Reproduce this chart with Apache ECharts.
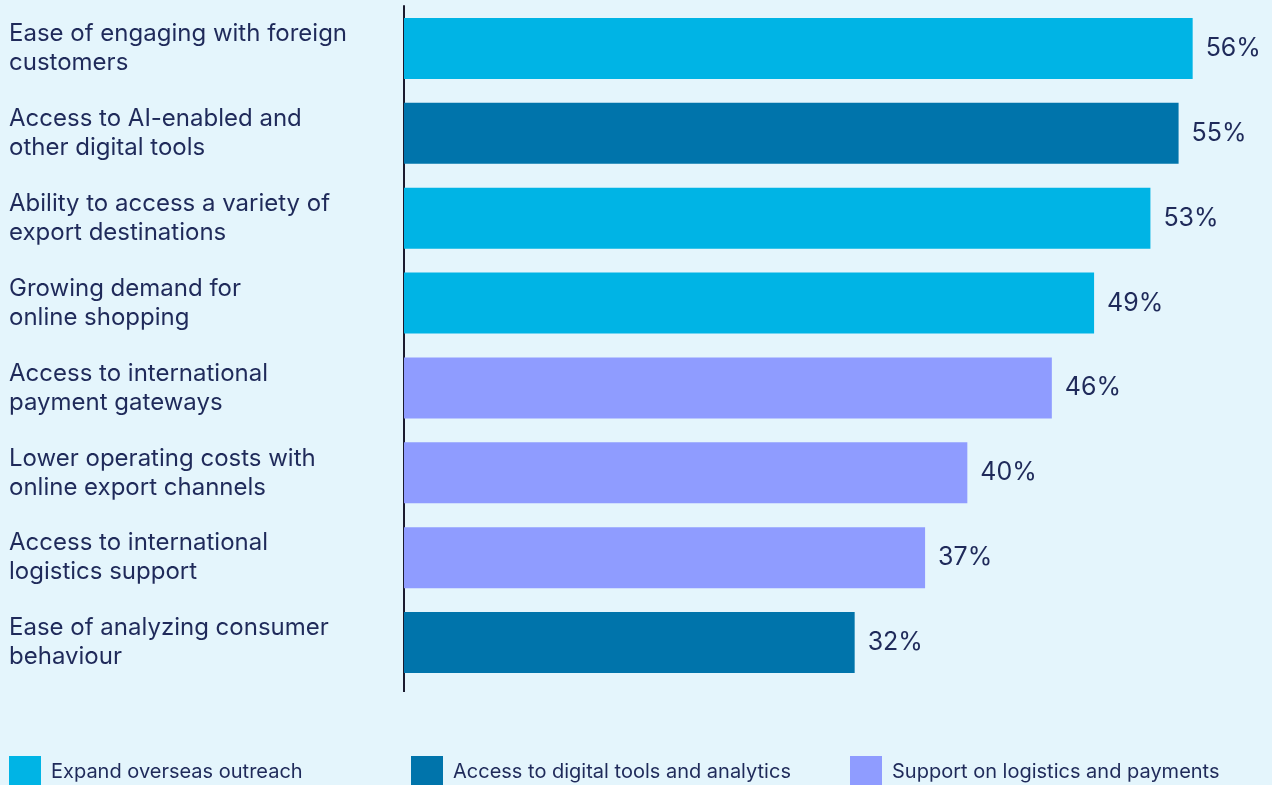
<!DOCTYPE html>
<html><head><meta charset="utf-8">
<script src="https://cdn.jsdelivr.net/npm/echarts@6/dist/echarts.min.js"></script>
<style>html,body{margin:0;padding:0;background:#e4f5fc;}#c{width:1272px;height:785px;}</style>
</head><body><div id="c"></div>
<script>
const categories = [
  "Ease of engaging with foreign\ncustomers",
  "Access to AI-enabled and\nother digital tools",
  "Ability to access a variety of\nexport destinations",
  "Growing demand for\nonline shopping",
  "Access to international\npayment gateways",
  "Lower operating costs with\nonline export channels",
  "Access to international\nlogistics support",
  "Ease of analyzing consumer\nbehaviour"
];
const values = [56, 55, 53, 49, 46, 40, 37, 32];
const groups = ["outreach", "digital", "outreach", "outreach", "logistics", "logistics", "logistics", "digital"];
const groupNames = {
  outreach: "Expand overseas outreach",
  digital: "Access to digital tools and analytics",
  logistics: "Support on logistics and payments"
};
const groupColors = { outreach: "#00b4e5", digital: "#0074ab", logistics: "#8f9cff" };
const groupOrder = ["outreach", "digital", "logistics"];

const navy = "#1f2a5a";
const font = "Inter";

const chart = echarts.init(document.getElementById('c'), null, { renderer: 'canvas' });
const series = groupOrder.map(g => ({
  name: groupNames[g],
  type: 'bar',
  stack: 'all',
  barWidth: 61,
  itemStyle: { color: groupColors[g] },
  label: {
    show: true, position: 'right', distance: 13,
    formatter: p => p.value + '%',
    color: navy, fontFamily: font, fontSize: 25
  },
  data: values.map((v, i) => groups[i] === g ? v : null)
}));
const legendLefts = [9, 411, 850];
const legends = groupOrder.map((g, i) => ({
  data: [groupNames[g]],
  left: legendLefts[i], top: 756,
  padding: 0,
  itemWidth: 32, itemHeight: 32, icon: 'rect',
  textStyle: { color: navy, fontFamily: font, fontSize: 20, padding: [0, 0, 0, 5] }
}));
chart.setOption({
  backgroundColor: '#e4f5fc',
  animation: false,
  grid: { left: 404, top: 6, right: 23, height: 679 },
  legend: legends,
  xAxis: { type: 'value', min: 0, max: 60, show: false },
  yAxis: {
    type: 'category', inverse: true, data: categories,
    axisLine: { show: true, lineStyle: { color: '#1a1a2e', width: 2 } },
    axisTick: { show: false },
    axisLabel: {
      align: 'left', margin: 395, color: navy, fontFamily: font,
      fontSize: 24, lineHeight: 29, padding: [0, 0, 4, 0]
    }
  },
  series: series,
  graphic: [{
    type: 'line', shape: { x1: 404, y1: 685, x2: 404, y2: 692 },
    style: { stroke: '#1a1a2e', lineWidth: 2 }
  }]
});
</script></body></html>
